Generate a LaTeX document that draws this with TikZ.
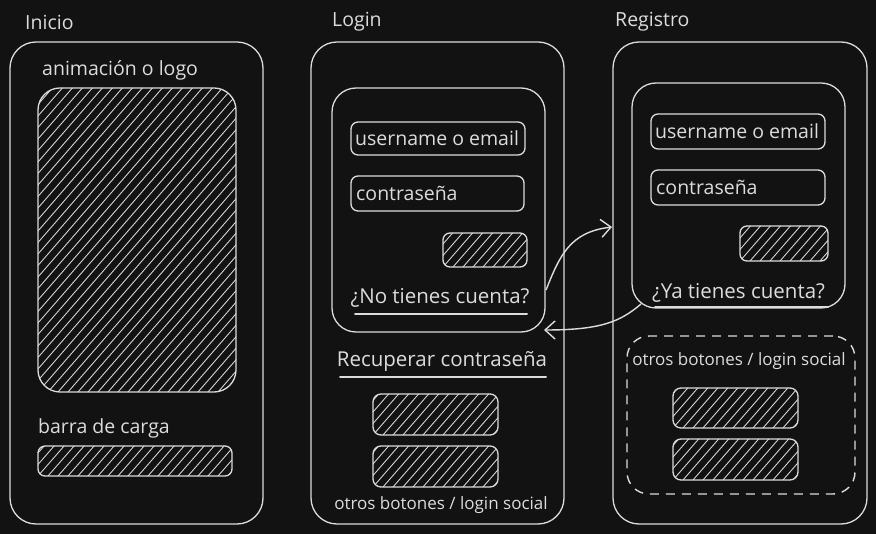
\documentclass[tikz,border=0pt]{standalone}
\usepackage{fontspec}
\setmainfont{Open Sans}
\usetikzlibrary{arrows.meta}
\definecolor{bg}{HTML}{121212}
\definecolor{fg}{HTML}{DCDCDC}
\begin{document}
\begin{tikzpicture}[x=1pt,y=-1pt,
  panel/.style={draw=fg, line width=1.3pt, rounded corners=26pt, inner sep=0pt},
  inner/.style={draw=fg, line width=1.3pt, rounded corners=24pt, inner sep=0pt},
  field/.style={draw=fg, line width=1.3pt, rounded corners=7pt, inner sep=0pt},
  hatch/.style={draw=fg, line width=1.3pt, inner sep=0pt,
    path picture={\foreach \k in {-440,-430,...,260}{\draw[fg,line width=0.85pt] ([xshift=\k pt]path picture bounding box.south west) -- ++(400pt,460pt);}}},
  dashbox/.style={draw=fg, line width=1.4pt, dash pattern=on 9pt off 7pt, rounded corners=22pt, inner sep=0pt},
  lbl/.style={text=fg, inner sep=0pt, font=\fontsize{19.5}{22}\selectfont},
  big/.style={text=fg, inner sep=0pt, font=\fontsize{20.5}{23}\selectfont},
  title/.style={text=fg, inner sep=0pt, anchor=west, font=\fontsize{19.5}{22}\selectfont},
  small/.style={text=fg, inner sep=0pt, font=\fontsize{17}{20}\selectfont},
  uline/.style={fg, line width=2pt, line cap=round},
  conn/.style={fg, line width=1.4pt, -{Straight Barb[length=10pt,width=18pt]}}
]
\useasboundingbox (0,0) rectangle (876,534);
\fill[bg] (0,0) rectangle (876,534);

% ---------- Inicio ----------
\node[title] (tInicio) at (25,22) {Inicio};
\node[panel, minimum width=253pt, minimum height=482pt] (pInicio) at (136.5,283) {};
\node[lbl, anchor=west] (tAnim) at (42,70) {animación o logo};
\node[hatch, rounded corners=22pt, minimum width=198pt, minimum height=304pt] (logo) at (137,240) {};
\node[lbl, anchor=west] (tBarra) at (38,428) {barra de carga};
\node[hatch, rounded corners=7pt, minimum width=194pt, minimum height=30pt] (barra) at (135,461) {};

% ---------- Login ----------
\node[title] (tLogin) at (332,22) {Login};
\node[panel, minimum width=253pt, minimum height=482pt] (pLogin) at (437.5,283) {};
\node[inner, minimum width=213pt, minimum height=244pt] (iLogin) at (438.5,210) {};
\node[field, minimum width=174pt, minimum height=33pt] (lUser) at (438,138.5) {};
\node[lbl, anchor=west] at (355,138) {username o email};
\node[field, minimum width=173pt, minimum height=35pt] (lPass) at (437.5,193.5) {};
\node[lbl, anchor=west] at (356,193) {contraseña};
\node[hatch, rounded corners=7pt, minimum width=84pt, minimum height=34pt] (lBtn) at (485,250) {};
\node[big] (lNo) at (440,298) {¿No tienes cuenta?};
\draw[uline] (355,314) -- (527,314);
\node[big] (lRec) at (442,361) {Recuperar contraseña};
\draw[uline] (340,377) -- (546,377);
\node[hatch, rounded corners=8pt, minimum width=125pt, minimum height=41pt] (lS1) at (435.5,414.5) {};
\node[hatch, rounded corners=8pt, minimum width=125pt, minimum height=41pt] (lS2) at (435.5,466.5) {};
\node[small] (lOtros) at (441,505) {otros botones / login social};

% ---------- Registro ----------
\node[title] (tReg) at (615,22) {Registro};
\node[panel, minimum width=254pt, minimum height=482pt] (pReg) at (740,283) {};
\node[inner, minimum width=213pt, minimum height=225pt] (iReg) at (738.5,195.5) {};
\node[field, minimum width=174pt, minimum height=35pt] (rUser) at (738,131.5) {};
\node[lbl, anchor=west] at (655,131) {username o email};
\node[field, minimum width=174pt, minimum height=35pt] (rPass) at (738,187.5) {};
\node[lbl, anchor=west] at (656,187) {contraseña};
\node[hatch, rounded corners=7pt, minimum width=88pt, minimum height=35pt] (rBtn) at (784,243.5) {};
\node[big] (rYa) at (738.5,293) {¿Ya tienes cuenta?};
\draw[uline] (655,307) -- (828,307);
\node[dashbox, minimum width=228pt, minimum height=158pt] (rDash) at (741,415) {};
\node[small] (rOtros) at (739,361) {otros botones / login social};
\node[hatch, rounded corners=8pt, minimum width=125pt, minimum height=40pt] (rS1) at (735.5,408) {};
\node[hatch, rounded corners=8pt, minimum width=125pt, minimum height=41pt] (rS2) at (735.5,459.5) {};

% ---------- connectors ----------
\coordinate (a1s) at (546,290);
\coordinate (a1e) at (612,227);
\coordinate (a2s) at (641,304);
\coordinate (a2e) at (544,330);
\draw[conn] (a1s) .. controls (560,255) and (570,232) .. (a1e);
\draw[conn] (a2s) .. controls (620,322) and (600,330) .. (a2e);
\end{tikzpicture}
\end{document}
